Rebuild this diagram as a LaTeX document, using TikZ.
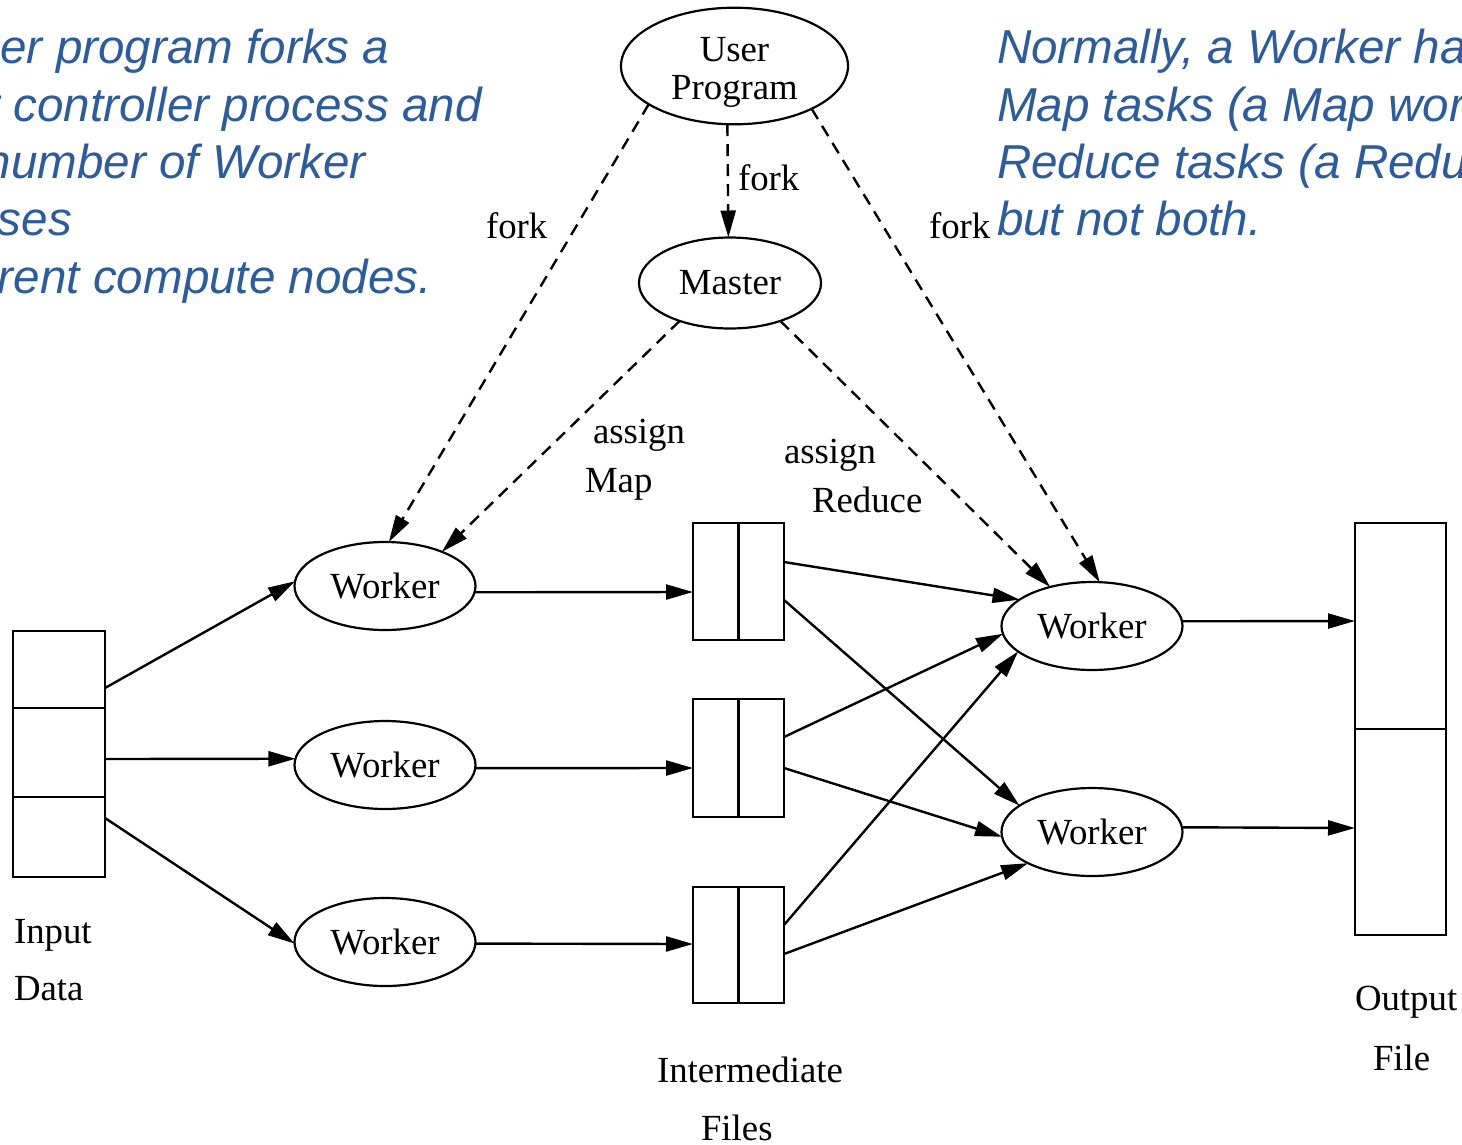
\documentclass[tikz,border=0pt]{standalone}
\usepackage{fontspec}
\setmainfont{Liberation Serif}
\newfontfamily\notefont{Liberation Sans}
\usetikzlibrary{arrows.meta,shapes.geometric,calc}
\definecolor{noteblue}{RGB}{46,92,154}
\newcommand\lblfont{\fontsize{36.8}{37.5}\selectfont}
\tikzset{
  every node/.style={inner sep=0pt, outer sep=0pt},
  proc/.style={draw, ellipse, line width=2.2pt, font=\lblfont},
  worker/.style={proc, minimum width=181pt, minimum height=88pt},
  cell/.style={draw, rectangle, line width=2.4pt, minimum width=92pt},
  lbl/.style={font=\lblfont, anchor=base west},
  note/.style={font=\notefont\itshape\fontsize{47.6}{57}\selectfont, text=noteblue, anchor=base west},
  flow/.style={line width=2.4pt, -{Triangle[length=27pt,width=15pt]}},
  ctrl/.style={flow, dash pattern=on 12pt off 8pt},
}
\begin{document}
\begin{tikzpicture}[x=1pt,y=-1pt]
\useasboundingbox (0,0) rectangle (1462,1144);

% explanatory notes, cut off by the frame
\begin{scope}
  \clip (0,0) rectangle (1462,1144);
  \node[note] (nl1) at (-145,63)  {The user program forks a};
  \node[note] (nl2) at (-145,121) {Master controller process and};
  \node[note] (nl3) at (-145,178) {some number of Worker};
  \node[note] (nl4) at (-145,235) {processes};
  \node[note] (nl5) at (-145,293) {at different compute nodes.};
  \node[note] (nr1) at (997,63)  {Normally, a Worker handles either};
  \node[note] (nr2) at (997,121) {Map tasks (a Map worker) or};
  \node[note] (nr3) at (997,178) {Reduce tasks (a Reduce worker)};
  \node[note] (nr4) at (997,235) {but not both.};
\end{scope}

% processes
\node[proc, minimum width=227pt, minimum height=108pt, align=center] (up) at (734.5,66)
  {\rule{0pt}{37pt}User\\Program};
\node[proc, minimum width=182pt, minimum height=91pt] (ms) at (730,283) {Master};
\node[worker] (w1) at (385,586) {Worker};
\node[worker] (w2) at (385,765) {Worker};
\node[worker] (w3) at (385,942) {Worker};
\node[worker] (r1) at (1092,626) {Worker};
\node[worker] (r2) at (1092,832) {Worker};

% input splits
\node[cell, minimum height=77pt] (in1) at (59,669.5) {};
\node[cell, minimum height=89pt] (in2) at (59,752.5) {};
\node[cell, minimum height=80pt] (in3) at (59,837) {};

% intermediate files (two partitions each)
\node[cell, minimum width=91pt, minimum height=117pt] (f1) at (738.5,581.5) {};
\node[cell, minimum width=91pt, minimum height=118pt] (f2) at (738.5,758) {};
\node[cell, minimum width=91pt, minimum height=116pt] (f3) at (738.5,945) {};
\foreach \f in {f1,f2,f3} \draw[line width=2.4pt] (\f.north) -- (\f.south);

% output files
\node[cell, minimum width=91pt, minimum height=206pt] (o1) at (1400.5,626) {};
\node[cell, minimum width=91pt, minimum height=206pt] (o2) at (1400.5,832) {};

% data flow
\draw[flow] ($(in1.north east)+(0,57)$) -- (w1.177);
\draw[flow] ($(in2.north east)+(0,51)$) -- (w2.176);
\draw[flow] ($(in3.north east)+(0,21)$) -- (w3.181);
\draw[flow] (w1.-4) -- ($(f1.north west)+(0,69)$);
\draw[flow] (w2.-2) -- ($(f2.north west)+(0,69)$);
\draw[flow] (w3.-1) -- ($(f3.north west)+(0,57)$);
\draw[flow] ($(f1.north east)+(0,39)$) -- (r1.160);
\draw[flow] ($(f1.north east)+(0,77)$) -- (r2.160);
\draw[flow] ($(f2.north east)+(0,38)$) -- (r1.185);
\draw[flow] ($(f2.north east)+(0,69)$) -- (r2.183);
\draw[flow] ($(f3.north east)+(0,38)$) -- (r1.199);
\draw[flow] ($(f3.north east)+(0,67)$) -- (r2.206);
\draw[flow] (r1.3) -- ($(o1.north west)+(0,98)$);
\draw[flow] (r2.3) -- ($(o2.north west)+(0,99)$);

% control
\draw[ctrl] (up.204) -- (w1.85);
\draw[ctrl] (up.263) -- (ms.92);
\draw[ctrl] (up.331) -- (r1.80);
\draw[ctrl] (ms.217) -- (w1.31);
\draw[ctrl] (ms.323) -- (r1.137);

% labels
\node[lbl] (lfork1) at (486,238) {fork};
\node[lbl] (lfork2) at (738,190) {fork};
\node[lbl] (lfork3) at (929,238) {fork};
\node[lbl] (las1) at (593,443) {assign};
\node[lbl] (lmap) at (585,492) {Map};
\node[lbl] (las2) at (784,463) {assign};
\node[lbl] (lred) at (812,512) {Reduce};
\node[lbl] (lin1) at (14,943) {Input};
\node[lbl] (lin2) at (14,1000) {Data};
\node[lbl] (lim1) at (657,1082) {Intermediate};
\node[lbl] (lim2) at (701,1140) {Files};
\node[lbl] (lout1) at (1355,1010) {Output};
\node[lbl] (lout2) at (1373,1070) {File};
\end{tikzpicture}
\end{document}
